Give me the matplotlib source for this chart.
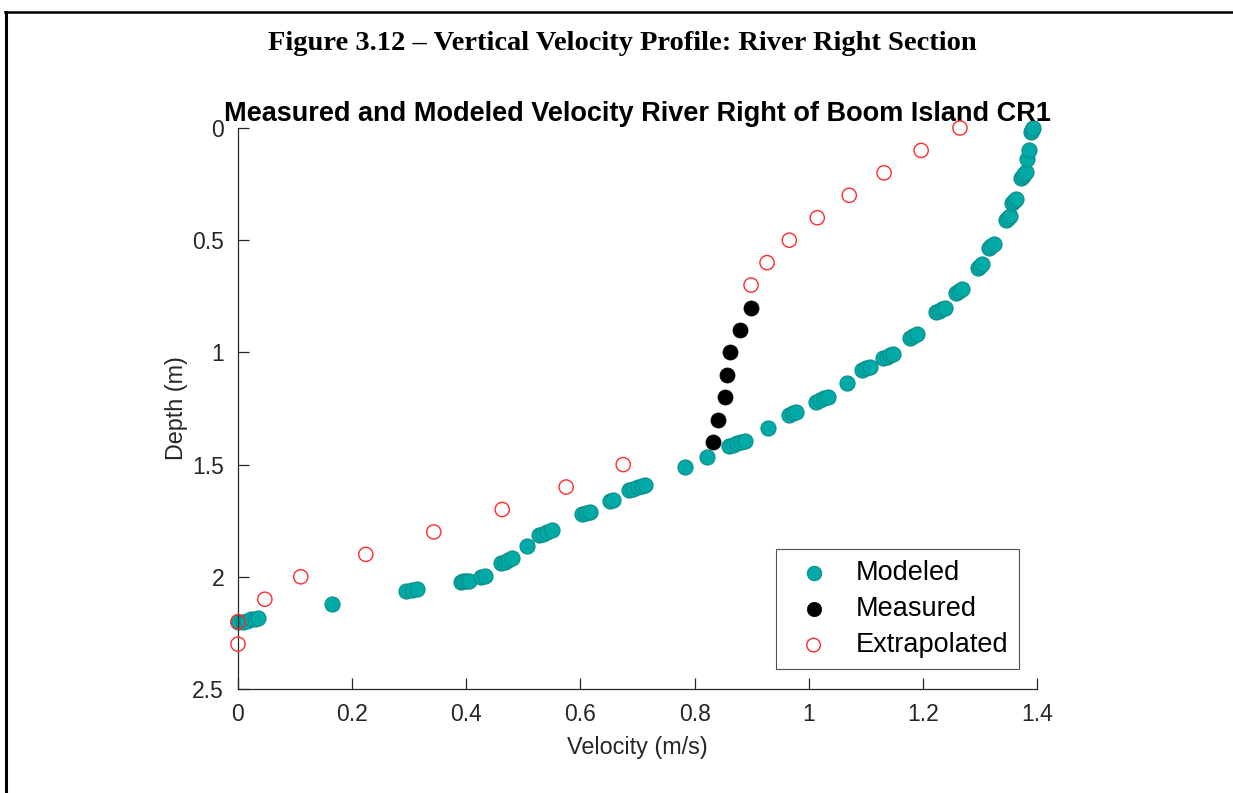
import matplotlib
matplotlib.use("Agg")
import matplotlib.pyplot as plt
from matplotlib.lines import Line2D

# ---- data ----
modeled_vel = [0.0, 0.008, 0.015, 0.022, 0.03, 0.035,
               0.165,
               0.295, 0.305, 0.313,
               0.39, 0.395, 0.40, 0.405,
               0.425, 0.432,
               0.46, 0.467, 0.473, 0.48,
               0.506,
               0.528, 0.535, 0.542, 0.55,
               0.603, 0.61, 0.617,
               0.652, 0.657,
               0.685, 0.692, 0.70, 0.708, 0.714,
               0.783,
               0.822,
               0.86, 0.868, 0.875, 0.882, 0.888,
               0.929,
               0.965, 0.972, 0.978,
               1.013, 1.02, 1.027, 1.033,
               1.067,
               1.093, 1.10, 1.107,
               1.13, 1.137, 1.143, 1.148,
               1.177, 1.183, 1.19,
               1.223, 1.228, 1.233, 1.238,
               1.258, 1.263, 1.268,
               1.296, 1.30, 1.304,
               1.316, 1.32, 1.324,
               1.345, 1.349, 1.353,
               1.356, 1.36, 1.364,
               1.372, 1.375, 1.378, 1.38,
               1.382,
               1.386,
               1.389, 1.391, 1.393]
modeled_depth = [2.2, 2.2, 2.195, 2.19, 2.188, 2.185,
                 2.12,
                 2.062, 2.06, 2.055,
                 2.022, 2.02, 2.018, 2.017,
                 2.003, 1.997,
                 1.94, 1.932, 1.925, 1.918,
                 1.862,
                 1.815, 1.808, 1.80, 1.793,
                 1.722, 1.717, 1.71,
                 1.663, 1.658,
                 1.613, 1.607, 1.60, 1.594, 1.59,
                 1.51,
                 1.468,
                 1.418, 1.412, 1.405, 1.40, 1.395,
                 1.335,
                 1.28, 1.272, 1.265,
                 1.222, 1.213, 1.205, 1.198,
                 1.137,
                 1.077, 1.07, 1.063,
                 1.027, 1.02, 1.012, 1.005,
                 0.937, 0.928, 0.92,
                 0.822, 0.815, 0.808, 0.80,
                 0.735, 0.727, 0.718,
                 0.622, 0.613, 0.604,
                 0.533, 0.524, 0.515,
                 0.41, 0.40, 0.39,
                 0.336, 0.327, 0.318,
                 0.225, 0.215, 0.205, 0.196,
                 0.14,
                 0.10,
                 0.02, 0.01, 0.0]

measured_vel = [0.899, 0.880, 0.862, 0.857, 0.853, 0.841, 0.832]
measured_depth = [0.8, 0.9, 1.0, 1.1, 1.2, 1.3, 1.4]

extrap_vel = [1.265, 1.197, 1.132, 1.071, 1.015, 0.966, 0.927, 0.899,
              0.675, 0.575, 0.463, 0.343, 0.224, 0.110, 0.047, 0.0, 0.0]
extrap_depth = [0.0, 0.1, 0.2, 0.3, 0.4, 0.5, 0.6, 0.7,
                1.5, 1.6, 1.7, 1.8, 1.9, 2.0, 2.1, 2.2, 2.3]

x_ticks = [0, 0.2, 0.4, 0.6, 0.8, 1, 1.2, 1.4]
x_ticklabels = ["0", "0.2", "0.4", "0.6", "0.8", "1", "1.2", "1.4"]
y_ticks = [0, 0.5, 1, 1.5, 2, 2.5]
y_ticklabels = ["0", "0.5", "1", "1.5", "2", "2.5"]

# ---- figure ----
plt.rcParams['font.family'] = ['Liberation Sans', 'DejaVu Sans']
W, H = 1233, 793
fig = plt.figure(figsize=(W / 100, H / 100), dpi=100)
fig.patch.set_facecolor('white')

# page border (top and left)
fig.add_artist(Line2D([5 / W, 1.0], [1 - 11.5 / H, 1 - 11.5 / H], color='black', lw=1.8))
fig.add_artist(Line2D([5.5 / W, 5.5 / W], [1 - 11.5 / H, 0.0], color='black', lw=2.2))

fig.text(622 / W, 1 - 43 / H, "Figure 3.12 \u2013 Vertical Velocity Profile: River Right Section",
         family='Liberation Serif', fontweight='bold', fontsize=20.5,
         ha='center', va='center', color='black')

ax = fig.add_axes([238 / W, 1 - 689 / H, (1037 - 238) / W, (689 - 128) / H])

teal = '#00AAA7'
teal_edge = '#0B8F8C'
ax.scatter(modeled_vel, modeled_depth, s=118, c=teal, edgecolors=teal_edge,
           linewidths=0.8, label='Modeled', zorder=2, clip_on=False)
ax.scatter(measured_vel, measured_depth, s=118, c='black', edgecolors='black',
           linewidths=0.5, label='Measured', zorder=3, clip_on=False)
ax.scatter(extrap_vel, extrap_depth, s=105, facecolors='none', edgecolors='#FF2A2A',
           linewidths=1.0, label='Extrapolated', zorder=4, clip_on=False)

ax.set_xlim(0, 1.4)
ax.set_ylim(2.5, 0)
ax.set_xticks(x_ticks)
ax.set_xticklabels(x_ticklabels)
ax.set_yticks(y_ticks)
ax.set_yticklabels(y_ticklabels)

for s in ['top', 'right']:
    ax.spines[s].set_visible(False)
for s in ['left', 'bottom']:
    ax.spines[s].set_color('#262626')
    ax.spines[s].set_linewidth(0.9)
ax.tick_params(direction='in', length=8, width=0.9, colors='#262626',
               labelsize=16.5)
ax.tick_params(axis='x', pad=10)
ax.tick_params(axis='y', pad=10)

ax.set_xlabel("Velocity (m/s)", fontsize=16.8, color='#262626', labelpad=7)
ax.set_ylabel("Depth (m)", fontsize=16.8, color='#262626', labelpad=3)
ax.set_title("Measured and Modeled Velocity River Right of Boom Island CR1",
             fontsize=19.5, fontweight='bold', color='black', pad=5)

leg = ax.legend(loc='lower right', bbox_to_anchor=(1019 / W, 1 - 669 / H),
                bbox_transform=fig.transFigure, fontsize=19.5, frameon=True,
                fancybox=False, edgecolor='#262626', borderpad=0.4,
                handlelength=2.0, handletextpad=0.55, labelspacing=0.37,
                borderaxespad=0, scatterpoints=1, markerscale=0.95)
leg.get_frame().set_linewidth(0.8)

fig.savefig("out.png", dpi=100, facecolor='white')
